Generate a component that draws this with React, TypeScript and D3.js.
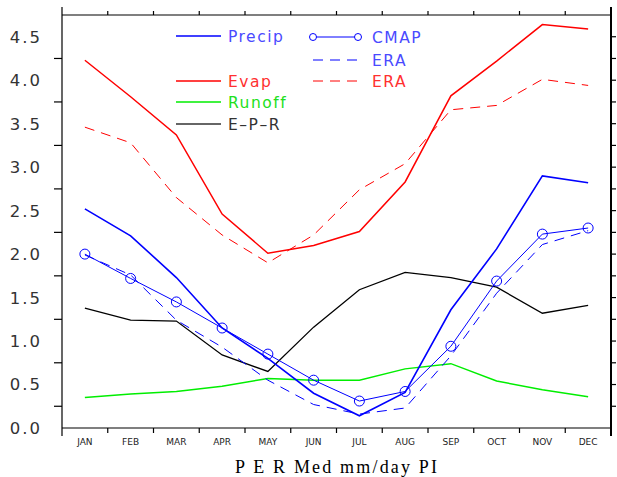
import React, { useEffect, useRef } from 'react';
import * as d3 from 'd3';

const months = ['JAN', 'FEB', 'MAR', 'APR', 'MAY', 'JUN', 'JUL', 'AUG', 'SEP', 'OCT', 'NOV', 'DEC'];
const precip = [2.52, 2.21, 1.73, 1.15, 0.80, 0.40, 0.14, 0.41, 1.36, 2.06, 2.90, 2.82];
const precipCmap = [2.0, 1.72, 1.45, 1.15, 0.85, 0.55, 0.31, 0.42, 0.94, 1.69, 2.23, 2.30];
const precipEra = [1.99, 1.76, 1.24, 0.93, 0.55, 0.27, 0.16, 0.23, 0.83, 1.55, 2.11, 2.27];
const evap = [4.23, 3.81, 3.37, 2.46, 2.01, 2.10, 2.26, 2.83, 3.82, 4.22, 4.64, 4.59];
const evapEra = [3.46, 3.28, 2.65, 2.22, 1.90, 2.22, 2.74, 3.04, 3.66, 3.71, 4.01, 3.94];
const runoff = [0.35, 0.39, 0.42, 0.48, 0.57, 0.55, 0.55, 0.68, 0.74, 0.54, 0.44, 0.36];
const epr = [1.38, 1.24, 1.23, 0.84, 0.65, 1.16, 1.59, 1.79, 1.73, 1.62, 1.32, 1.41];
const yLabels = [0, 0.5, 1, 1.5, 2, 2.5, 3, 3.5, 4, 4.5];

const BLUE = '#0000ff';
const RED = '#ff0000';
const GREEN = '#00ee00';

const App = () => {
  const svgRef = useRef<SVGSVGElement | null>(null);

  useEffect(() => {
    const svg = d3.select(svgRef.current);
    svg.selectAll('*').remove();

    const left = 62, right = 611, top = 15, bottom = 428;
    const x = d3.scaleLinear().domain([0.5, 12.5]).range([left, right]);
    const y = d3.scaleLinear().domain([0, 4.75]).range([bottom, top]);

    // frame
    svg.append('line').attr('x1', left).attr('x2', right).attr('y1', top).attr('y2', top)
      .attr('stroke', '#000').attr('stroke-width', 1.2);
    svg.append('line').attr('x1', left).attr('x2', right).attr('y1', bottom).attr('y2', bottom)
      .attr('stroke', '#000').attr('stroke-width', 1.2);
    svg.append('line').attr('x1', left).attr('x2', left).attr('y1', top - 8).attr('y2', bottom + 8)
      .attr('stroke', '#000').attr('stroke-width', 1.2);
    svg.append('line').attr('x1', right).attr('x2', right).attr('y1', top - 8).attr('y2', bottom + 8)
      .attr('stroke', '#000').attr('stroke-width', 2);

    // month boundary ticks, top and bottom
    const bounds = d3.range(1.5, 12, 1);
    svg.selectAll('.tb').data(bounds).enter().append('line')
      .attr('x1', d => x(d)).attr('x2', d => x(d)).attr('y1', bottom).attr('y2', bottom + 5)
      .attr('stroke', '#000').attr('stroke-width', 1.2);
    svg.selectAll('.tt').data(bounds).enter().append('line')
      .attr('x1', d => x(d)).attr('x2', d => x(d)).attr('y1', top).attr('y2', top - 4)
      .attr('stroke', '#000').attr('stroke-width', 1.2);

    // y ticks: left at quarter values, right at every 0.25
    const leftTicks = d3.range(0.25, 4.75, 0.5);
    svg.selectAll('.tl').data(leftTicks).enter().append('line')
      .attr('x1', left - 8).attr('x2', left).attr('y1', d => y(d)).attr('y2', d => y(d))
      .attr('stroke', '#000').attr('stroke-width', 1.2);
    const rightTicks = d3.range(0.25, 4.6, 0.25);
    svg.selectAll('.tr').data(rightTicks).enter().append('line')
      .attr('x1', right).attr('x2', right + 5).attr('y1', d => y(d)).attr('y2', d => y(d))
      .attr('stroke', '#000').attr('stroke-width', 1.2);

    // y labels
    svg.selectAll('.yl').data(yLabels).enter().append('text')
      .attr('x', 42).attr('y', d => y(d)).attr('dy', '0.36em')
      .attr('text-anchor', 'end')
      .attr('font-family', 'DejaVu Sans').attr('font-size', 16.5).attr('letter-spacing', 2)
      .attr('fill', '#333')
      .text(d => d.toFixed(1));

    // x labels
    svg.selectAll('.xl').data(months).enter().append('text')
      .attr('x', (d, i) => x(i + 1)).attr('y', 445)
      .attr('text-anchor', 'middle')
      .attr('font-family', 'DejaVu Sans').attr('font-size', 9)
      .attr('fill', '#222')
      .text(d => d);

    svg.append('text')
      .attr('x', 336).attr('y', 473)
      .attr('text-anchor', 'middle')
      .attr('font-family', 'Liberation Serif').attr('font-size', 18)
      .attr('textLength', 202).attr('lengthAdjust', 'spacing')
      .attr('fill', '#000')
      .text('P E R Med mm/day PI');

    const line = d3.line<number>().x((d, i) => x(i + 1)).y(d => y(d));

    const series = [
      { data: runoff, color: GREEN, width: 1.5, dash: null },
      { data: evapEra, color: RED, width: 1, dash: '10,7' },
      { data: evap, color: RED, width: 1.5, dash: null },
      { data: epr, color: '#000', width: 1.3, dash: null },
      { data: precipEra, color: BLUE, width: 1, dash: '10,7' },
      { data: precipCmap, color: BLUE, width: 1, dash: null },
      { data: precip, color: BLUE, width: 1.6, dash: null },
    ];
    series.forEach(s => {
      svg.append('path')
        .attr('d', line(s.data))
        .attr('fill', 'none')
        .attr('stroke', s.color)
        .attr('stroke-width', s.width)
        .attr('stroke-dasharray', s.dash);
    });

    svg.selectAll('.cm').data(precipCmap).enter().append('circle')
      .attr('cx', (d, i) => x(i + 1)).attr('cy', d => y(d)).attr('r', 5)
      .attr('fill', 'none').attr('stroke', BLUE).attr('stroke-width', 1);

    // legend
    const legendLeft = [
      { label: 'Precip', color: BLUE, text: '#4a4aff', ly: 36 },
      { label: 'Evap', color: RED, text: '#ff3030', ly: 81 },
      { label: 'Runoff', color: GREEN, text: '#20e020', ly: 102 },
      { label: 'E\u2013P\u2013R', color: '#333', text: '#333', ly: 124 },
    ];
    legendLeft.forEach(l => {
      svg.append('line').attr('x1', 176).attr('x2', 221).attr('y1', l.ly).attr('y2', l.ly)
        .attr('stroke', l.color).attr('stroke-width', 1.5);
      svg.append('text').attr('x', 228).attr('y', l.ly).attr('dy', '0.36em')
        .attr('font-family', 'DejaVu Sans').attr('font-size', 15.5).attr('letter-spacing', 1.5)
        .attr('fill', l.text).text(l.label);
    });

    const legendRight = [
      { label: 'CMAP', color: BLUE, text: '#4a4aff', ly: 37, dash: null, circles: true },
      { label: 'ERA', color: BLUE, text: '#4a4aff', ly: 60, dash: '10,7', circles: false },
      { label: 'ERA', color: RED, text: '#ff3030', ly: 81, dash: '10,7', circles: false },
    ];
    legendRight.forEach(l => {
      svg.append('line').attr('x1', 313).attr('x2', 358).attr('y1', l.ly).attr('y2', l.ly)
        .attr('stroke', l.color).attr('stroke-width', 1).attr('stroke-dasharray', l.dash);
      if (l.circles) {
        [313, 358].forEach(cx => {
          svg.append('circle').attr('cx', cx).attr('cy', l.ly).attr('r', 3.5)
            .attr('fill', '#fff').attr('stroke', l.color).attr('stroke-width', 1);
        });
      }
      svg.append('text').attr('x', 372).attr('y', l.ly).attr('dy', '0.36em')
        .attr('font-family', 'DejaVu Sans').attr('font-size', 15.5).attr('letter-spacing', 1.5)
        .attr('fill', l.text).text(l.label);
    });
  }, []);

  return (
    <div style={{ position: 'absolute', left: 0, top: 0 }}>
      <svg ref={svgRef} width={617} height={477} style={{ display: 'block', background: '#fff' }} />
    </div>
  );
};

export default App;
